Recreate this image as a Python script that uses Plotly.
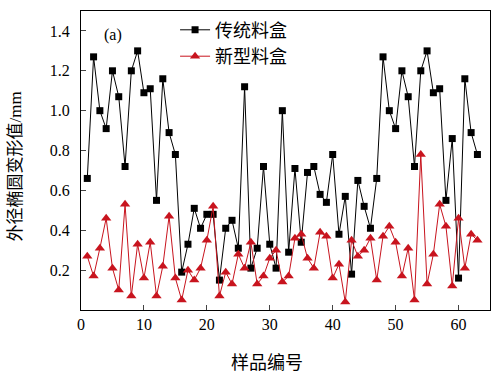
import plotly.graph_objects as go

sample_no = list(range(1, 64))
traditional = [0.66, 1.27, 1.00, 0.91, 1.20, 1.07, 0.72, 1.20, 1.30, 1.09,
               1.11, 0.55, 1.16, 0.89, 0.78, 0.19, 0.33, 0.51, 0.41, 0.48,
               0.48, 0.15, 0.41, 0.45, 0.31, 1.12, 0.21, 0.31, 0.72, 0.33,
               0.21, 1.00, 0.29, 0.71, 0.34, 0.69, 0.72, 0.58, 0.54, 0.78,
               0.38, 0.57, 0.18, 0.65, 0.52, 0.41, 0.66, 1.27, 1.00, 0.91,
               1.20, 1.07, 0.72, 1.20, 1.30, 1.09, 1.11, 0.55, 0.86, 0.16,
               1.16, 0.89, 0.78]
new_box = [0.27, 0.17, 0.31, 0.46, 0.21, 0.10, 0.53, 0.07, 0.33, 0.16,
           0.34, 0.07, 0.22, 0.47, 0.16, 0.05, 0.20, 0.15, 0.21, 0.35,
           0.52, 0.07, 0.19, 0.13, 0.28, 0.21, 0.34, 0.13, 0.17, 0.26,
           0.30, 0.14, 0.17, 0.36, 0.38, 0.26, 0.21, 0.39, 0.37, 0.16,
           0.23, 0.04, 0.35, 0.27, 0.30, 0.36, 0.15, 0.37, 0.42, 0.34,
           0.17, 0.31, 0.05, 0.78, 0.13, 0.28, 0.53, 0.42, 0.12, 0.46,
           0.21, 0.38, 0.35]
names = ["传统料盒", "新型料盒"]
x_ticks = [0, 10, 20, 30, 40, 50, 60]
y_ticks = [0.2, 0.4, 0.6, 0.8, 1.0, 1.2, 1.4]

FONT = '"Liberation Serif", "Times New Roman", "Noto Sans CJK SC", serif'
RED = "#c8141e"

fig = go.Figure()
fig.add_trace(go.Scatter(x=sample_no, y=traditional, name=names[0], mode="lines+markers",
                         line=dict(color="black", width=1),
                         marker=dict(symbol="square", size=7, color="black")))
fig.add_trace(go.Scatter(x=sample_no, y=new_box, name=names[1], mode="lines+markers",
                         line=dict(color=RED, width=1),
                         marker=dict(symbol="triangle-up", size=9, color=RED)))

fig.update_layout(
    width=498, height=375,
    margin=dict(l=81, r=8, t=11, b=65),
    paper_bgcolor="white", plot_bgcolor="white",
    font=dict(family=FONT, size=16, color="black"),
    showlegend=True,
    legend=dict(x=0.23, y=0.998, xanchor="left", yanchor="top",
                bgcolor="rgba(0,0,0,0)", font=dict(size=18), itemwidth=30,
                tracegroupgap=0),
    annotations=[
        dict(text="(a)", x=0.051, y=0.92, xref="paper", yref="paper",
             xanchor="left", yanchor="middle", showarrow=False, font=dict(size=16)),
        dict(text="样品编号", x=0.455, y=-0.177, xref="paper", yref="paper",
             xanchor="center", yanchor="middle", showarrow=False, font=dict(size=18)),
        dict(text="外径椭圆变形值/mm", x=0, xshift=-66, y=0.48, xref="paper", yref="paper",
             xanchor="center", yanchor="middle", showarrow=False, textangle=-90,
             font=dict(size=17)),
    ],
)
fig.update_xaxes(range=[0, 65], tickvals=x_ticks, ticks="inside", ticklen=5,
                 showline=True, linecolor="black", linewidth=1, mirror=True,
                 showgrid=False, zeroline=False, tickfont=dict(size=16))
fig.update_yaxes(range=[0, 1.5], tickvals=y_ticks, tickformat=".1f", ticks="inside",
                 ticklen=5, showline=True, linecolor="black", linewidth=1, mirror=True,
                 showgrid=False, zeroline=False, tickfont=dict(size=16),
                 ticklabelstandoff=7)

fig.write_html("out.html", config={"displayModeBar": False},
               post_script="document.body.style.margin='0';")
